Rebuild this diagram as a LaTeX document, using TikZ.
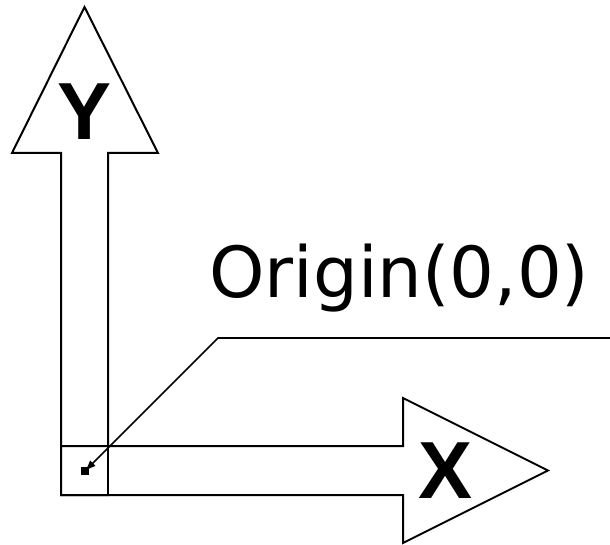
\documentclass[tikz,border=0pt]{standalone}
\usepackage{fontspec}
\setmainfont{Liberation Sans}
\newfontfamily\labelfont{DejaVu Sans}
\usetikzlibrary{arrows.meta}
\tikzset{
  outline/.style={draw=black, line width=2pt, line join=miter, fill=white},
  axislabel/.style={inner sep=0pt, anchor=base, font=\bfseries\fontsize{81}{81}\selectfont},
  leader/.style={draw=black, line width=1.6pt},
}
\begin{document}
\begin{tikzpicture}[x=1pt,y=-1pt]
\useasboundingbox (0,0) rectangle (610,545);
% Y arrow
\draw[outline] (61,495) -- (61,153) -- (12,153) -- (84.5,7) -- (158,153) -- (108,153) -- (108,495) -- cycle;
% X arrow
\draw[outline] (61,446) -- (403,446) -- (403,398) -- (548,470.5) -- (403,543) -- (403,495) -- (61,495) -- cycle;
\draw[black, line width=2pt] (108,446) -- (108,495);
% labels
\node[axislabel] (ylab) at (85,140) {Y};
\node[axislabel] (xlab) at (446,498) {X};
\node[inner sep=0pt, anchor=base west, font=\labelfont\fontsize{70.5}{70.5}\selectfont] (orig) at (209,297) {Origin(0,0)};
% leader
\coordinate (o) at (85,471);
\coordinate (k) at (218,338);
\coordinate (e) at (610,338);
\draw[leader, -{Latex[length=11pt,width=8pt]}] (e) -- (k) -- (o);
\fill[black] (o) ++(-4,-4) rectangle ++(8,8);
\end{tikzpicture}
\end{document}
